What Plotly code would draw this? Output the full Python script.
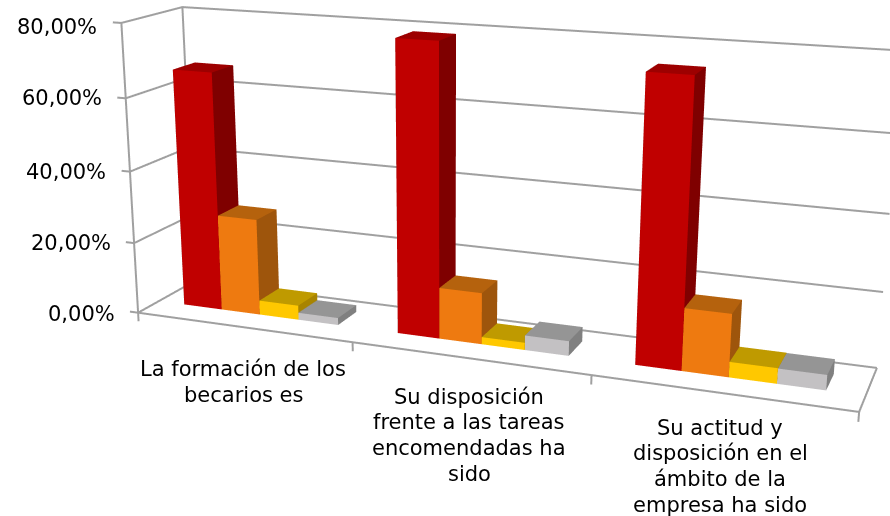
import numpy as np
import plotly.graph_objects as go

# Values (percent)
v_red = [66.37, 78.76, 74.56]
v_orange = [26.96, 13.99, 16.53]
v_yellow = [4.02, 1.97, 4.06]
v_gray = [1.98, 3.98, 3.98]
z_ticks = [0, 20, 40, 60, 80]
tick_labels = ["0,00%", "20,00%", "40,00%", "60,00%", "80,00%"]
cat_lines = [
    ["La formación de los", "becarios es"],
    ["Su disposición", "frente a las tareas", "encomendadas ha", "sido"],
    ["Su actitud y", "disposición en el", "ámbito de la", "empresa ha sido"],
]

W, H = 890, 516
XR = (-0.07, 3.02); YR = (-0.02, 1.02); ZR = (-3.5, 81.0)
span = np.array([XR[1]-XR[0], YR[1]-YR[0], ZR[1]-ZR[0]])
sx, sy = 0.8129, 0.3898
eye = dict(x=1.7483, y=-4.7578, z=1.3283)
center = dict(x=-0.1383, y=0, z=-0.2237)
up = dict(x=0.0086, y=0, z=1)
tan_half_fov = 0.1581
b0, bw, y0, y1 = 0.1253, 0.1827, 0.3527, 0.7294
FONT = "DejaVu Sans"
GRID = "#a0a0a0"

fig = go.Figure()
lines = []
for z in z_ticks:
    lines += [(-0.04,0,z),(0,0,z),(0,1,z),(3,1,z),(None,None,None)]
for x in [0,1,2,3]:
    lines += [(x,0,-2.5),(x,0,0),(None,None,None)]
lines += [(0,0,0),(3,0,0),(3,1,0),(None,None,None),(0,0,0),(0,0,80),(None,None,None),(0,1,0),(0,1,80)]
la = list(zip(*lines))
fig.add_trace(go.Scatter3d(x=la[0],y=la[1],z=la[2],mode="lines",line=dict(color=GRID,width=4),hoverinfo="skip"))

def add_bars(vals, offs, cols):
    X,Y,Z,I,J,K,FC=[],[],[],[],[],[],[]
    for c,v in enumerate(vals):
        x0,x1=c+offs[0],c+offs[1]
        b=len(X)
        X+=[x0,x1,x1,x0,x0,x1,x1,x0];Y+=[y0,y0,y1,y1,y0,y0,y1,y1];Z+=[0,0,0,0,v,v,v,v]
        faces=[((0,1,5),0),((0,5,4),0),((1,2,6),1),((1,6,5),1),((4,5,6),2),((4,6,7),2),((0,3,7),1),((0,7,4),1)]
        for (a,d,e),ci in faces:
            I.append(b+a);J.append(b+d);K.append(b+e);FC.append(cols[ci])
    fig.add_trace(go.Mesh3d(x=X,y=Y,z=Z,i=I,j=J,k=K,facecolor=FC,flatshading=True,hoverinfo="skip",
        lighting=dict(ambient=1,diffuse=0,specular=0,fresnel=0,roughness=1)))
add_bars(v_red,(b0,b0+bw),("#C00000","#7F0000","#9D0000"))
add_bars(v_orange,(b0+bw,b0+2*bw),("#EE7A10","#9E550C","#B5620D"))
add_bars(v_yellow,(b0+2*bw,b0+3*bw),("#FFC800","#A88400","#BF9A00"))
add_bars(v_gray,(b0+3*bw,b0+4*bw),("#C3C1C3","#808080","#959595"))

fig.update_layout(width=W,height=H,margin=dict(l=0,r=0,t=0,b=0),showlegend=False,paper_bgcolor="white",
  scene=dict(domain=dict(x=[0,1],y=[0,1]),bgcolor="white",
    xaxis=dict(visible=False,range=XR),yaxis=dict(visible=False,range=YR),zaxis=dict(visible=False,range=ZR),
    aspectmode="manual",aspectratio=dict(x=sx*span[0],y=sy*span[1],z=span[2]/80),
    camera=dict(eye=eye,center=center,up=up,projection=dict(type="perspective"))))

for lab, px, py in zip(tick_labels, [116.5,112.5,107.5,103.5,98.5], [314,243,172,98,27]):
    fig.add_annotation(xref="paper",yref="paper",x=px/W,y=1-py/H,text=lab,showarrow=False,xanchor="right",yanchor="middle",
                       font=dict(family=FONT,size=21,color="black"))
for ls, px, ys in zip(cat_lines, [243,469,720], [[369,395],[397,422,448,474],[428,453,479,505]]):
    for lab, py in zip(ls, ys):
        fig.add_annotation(xref="paper",yref="paper",x=px/W,y=1-py/H,text=lab,showarrow=False,xanchor="center",yanchor="middle",
                           font=dict(family=FONT,size=21,color="black"))

fovy = 2*float(np.arctan(tan_half_fov))
post = ("document.body.style.margin='0';document.body.style.overflow='hidden';"
        "var g=document.getElementsByClassName('plotly-graph-div')[0];var s=g._fullLayout.scene._scene.glplot;"
        "s.fovy=%f;s.redraw();setTimeout(function(){s.fovy=%f;s.redraw();},100);" % (fovy,fovy))
fig.write_html("out.html", post_script=post, config=dict(displayModeBar=False))
